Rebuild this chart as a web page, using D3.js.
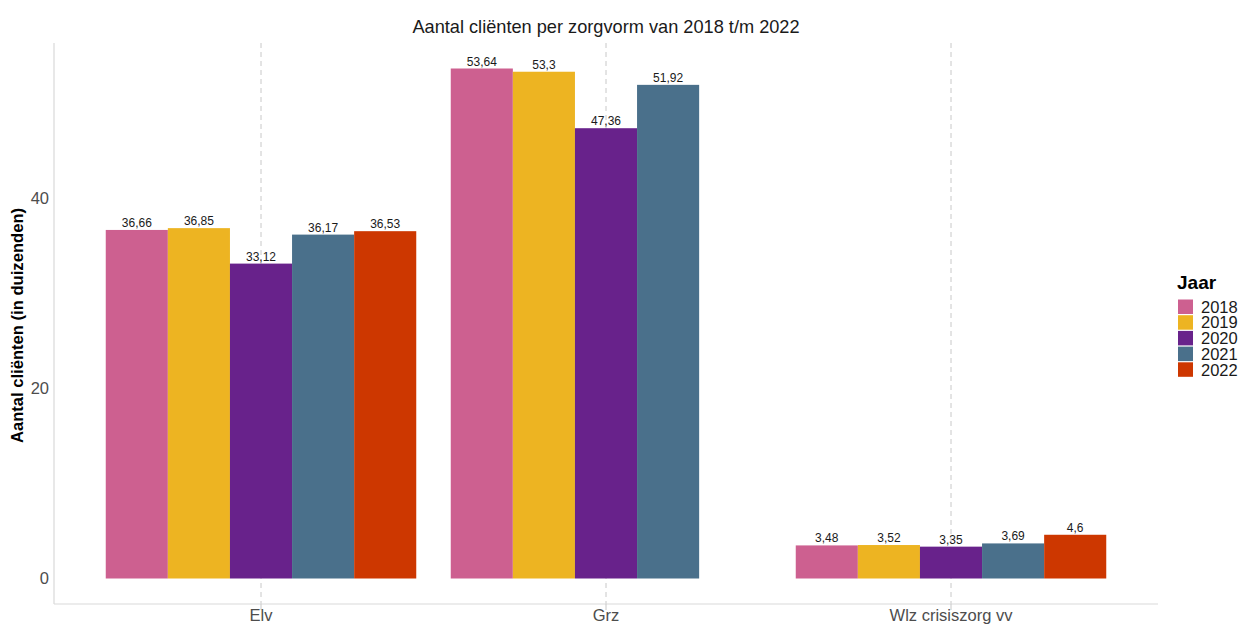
<!DOCTYPE html>
<html>
<head>
<meta charset="utf-8">
<script src="https://cdn.jsdelivr.net/npm/d3@7"></script>
<style>
  body { margin: 0; background: #fff; }
  svg { display: block; font-family: "Liberation Sans", Arial, sans-serif; }
</style>
</head>
<body>
<svg id="chart" width="1241" height="626"></svg>
<script>
// Zorgvormen en jaren
const categories = ["Elv", "Grz", "Wlz crisiszorg vv"];
const years = ["2018", "2019", "2020", "2021", "2022"];
// Aantal cliënten (in duizenden) per zorgvorm, per jaar (null = geen gegevens)
const values2018 = [36.66, 53.64, 3.48];
const values2019 = [36.85, 53.30, 3.52];
const values2020 = [33.12, 47.36, 3.35];
const values2021 = [36.17, 51.92, 3.69];
const values2022 = [36.53, null, 4.60];
const yTicks = [0, 20, 40];
const colors = ["#CD6090", "#EDB422", "#68228B", "#4A708B", "#CD3700"];

const series = [values2018, values2019, values2020, values2021, values2022];
const rows = [];
categories.forEach((c, ci) => {
  years.forEach((y, yi) => {
    const v = series[yi][ci];
    if (v !== null) rows.push({ cat: c, year: y, value: v });
  });
});

const svg = d3.select("#chart");
const panel = { left: 54, right: 1158, top: 43, bottom: 604 };

// Discrete x with 0.6 expansion on each side
const xPos = d3.scaleLinear()
  .domain([0.4, categories.length + 0.6])
  .range([panel.left, panel.right]);
const xCenter = c => xPos(categories.indexOf(c) + 1);
const groupWidth = xPos(0.9) - xPos(0);
const inner = d3.scaleBand().domain(years).range([-groupWidth / 2, groupWidth / 2]).padding(0);

const maxV = d3.max(rows, d => d.value);
const y = d3.scaleLinear()
  .domain([-maxV * 0.05, maxV * 1.05])
  .range([panel.bottom, panel.top]);

const fmt = v => String(+v.toFixed(2)).replace(".", ",");

// Vertical dashed grid lines at category positions
svg.append("g").selectAll("line").data(categories).join("line")
  .attr("x1", d => xCenter(d)).attr("x2", d => xCenter(d))
  .attr("y1", panel.top).attr("y2", panel.bottom)
  .attr("stroke", "#c8c8c8").attr("stroke-width", 1)
  .attr("stroke-dasharray", "5,4");

// Axis lines
svg.append("line")
  .attr("x1", panel.left).attr("x2", panel.left)
  .attr("y1", panel.top).attr("y2", panel.bottom)
  .attr("stroke", "#d9d9d9").attr("stroke-width", 1.2);
svg.append("line")
  .attr("x1", panel.left).attr("x2", panel.right)
  .attr("y1", panel.bottom).attr("y2", panel.bottom)
  .attr("stroke", "#d9d9d9").attr("stroke-width", 1.2);

// Bars
svg.append("g").selectAll("rect").data(rows).join("rect")
  .attr("x", d => xCenter(d.cat) + inner(d.year))
  .attr("width", inner.bandwidth())
  .attr("y", d => y(d.value))
  .attr("height", d => y(0) - y(d.value))
  .attr("fill", d => colors[years.indexOf(d.year)]);

// Value labels
svg.append("g").selectAll("text").data(rows).join("text")
  .attr("x", d => xCenter(d.cat) + inner(d.year) + inner.bandwidth() / 2)
  .attr("y", d => y(d.value) - 3)
  .attr("text-anchor", "middle")
  .attr("font-size", 12)
  .attr("fill", "#1a1a1a")
  .text(d => fmt(d.value));

// Y tick labels
svg.append("g").selectAll("text").data(yTicks).join("text")
  .attr("x", panel.left - 5)
  .attr("y", d => y(d))
  .attr("dy", "0.35em")
  .attr("text-anchor", "end")
  .attr("font-size", 16.5)
  .attr("fill", "#4d4d4d")
  .text(d => d);

// X tick marks and labels
svg.append("g").selectAll("line").data(categories).join("line")
  .attr("x1", d => xCenter(d)).attr("x2", d => xCenter(d))
  .attr("y1", panel.bottom).attr("y2", panel.bottom + 6)
  .attr("stroke", "#c8c8c8");
svg.append("g").selectAll("text").data(categories).join("text")
  .attr("x", d => xCenter(d))
  .attr("y", 621)
  .attr("text-anchor", "middle")
  .attr("font-size", 16.5)
  .attr("fill", "#4d4d4d")
  .text(d => d);

// Y axis title
svg.append("text")
  .attr("transform", `translate(23,${(panel.top + panel.bottom) / 2 + 2}) rotate(-90)`)
  .attr("text-anchor", "middle")
  .attr("font-size", 16.6)
  .attr("font-weight", "bold")
  .attr("fill", "#000")
  .text("Aantal cliënten (in duizenden)");

// Title
svg.append("text")
  .attr("x", (panel.left + panel.right) / 2)
  .attr("y", 33)
  .attr("text-anchor", "middle")
  .attr("font-size", 18.2)
  .attr("fill", "#1a1a1a")
  .text("Aantal cliënten per zorgvorm van 2018 t/m 2022");

// Legend
const legend = svg.append("g").attr("transform", "translate(1177,0)");
legend.append("text")
  .attr("x", 0).attr("y", 289)
  .attr("font-size", 19).attr("font-weight", "bold")
  .text("Jaar");
const items = legend.selectAll("g.item").data(years).join("g")
  .attr("class", "item")
  .attr("transform", (d, i) => `translate(0,${299 + i * 15.7})`);
items.append("rect")
  .attr("x", 1).attr("y", 0.5).attr("width", 15).attr("height", 14.5)
  .attr("fill", (d, i) => colors[i]);
items.append("text")
  .attr("x", 24).attr("y", 8).attr("dy", "0.35em")
  .attr("font-size", 16.5).attr("fill", "#1a1a1a")
  .text(d => d);
</script>
</body>
</html>
